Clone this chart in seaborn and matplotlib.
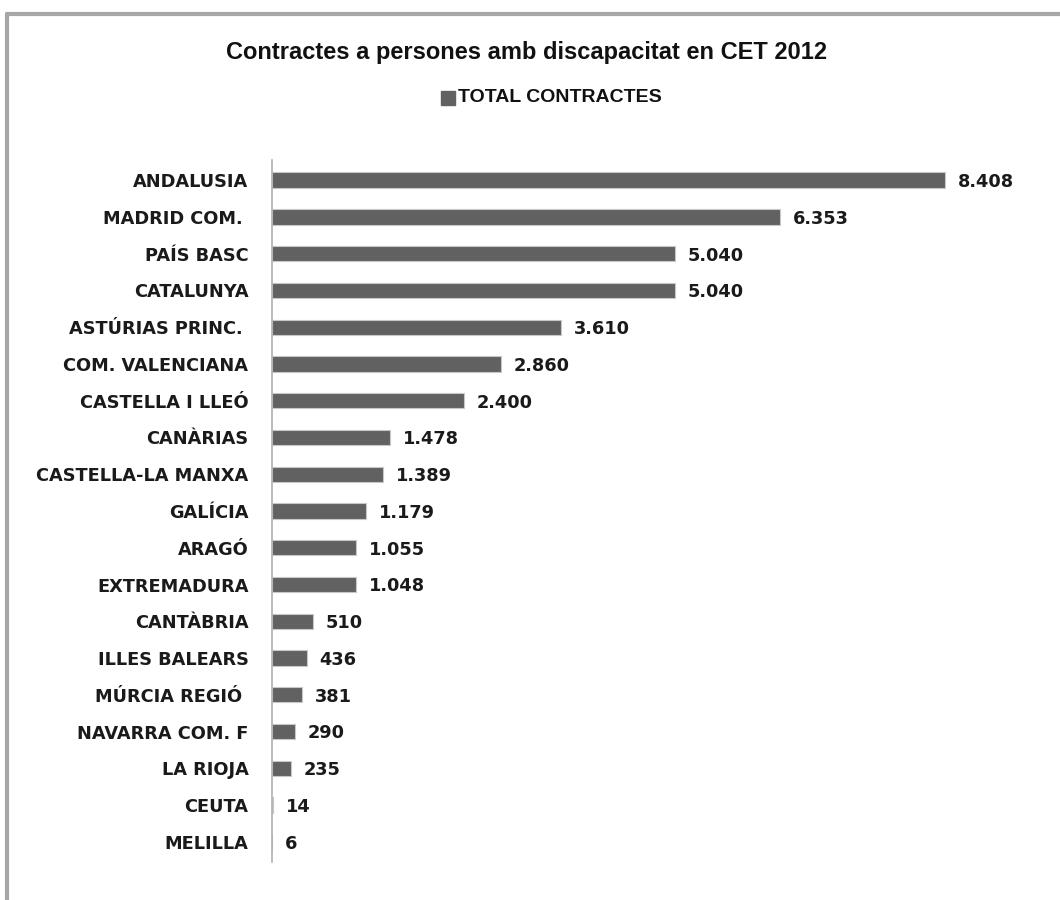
import matplotlib
matplotlib.use('Agg')
import matplotlib.pyplot as plt
import seaborn as sns
import pandas as pd
from matplotlib.patches import Rectangle

# ── Dades ──────────────────────────────────────────────────────────────────────
regions = [
    'ANDALUSIA', 'MADRID COM. ', 'PAÍS BASC', 'CATALUNYA', 'ASTÚRIAS PRINC. ',
    'COM. VALENCIANA', 'CASTELLA I LLEÓ', 'CANÀRIAS', 'CASTELLA-LA MANXA',
    'GALÍCIA', 'ARAGÓ', 'EXTREMADURA', 'CANTÀBRIA', 'ILLES BALEARS',
    'MÚRCIA REGIÓ ', 'NAVARRA COM. F', 'LA RIOJA', 'CEUTA', 'MELILLA',
]
contractes = [8408, 6353, 5040, 5040, 3610, 2860, 2400, 1478, 1389,
              1179, 1055, 1048, 510, 436, 381, 290, 235, 14, 6]

df = pd.DataFrame({'regio': regions, 'total': contractes})

sns.set_style('white')
plt.rcParams['font.family'] = ['DejaVu Sans']

BAR = '#616161'
TITLE_FONT = ['Liberation Sans', 'DejaVu Sans']

fig = plt.figure(figsize=(10.6, 9), dpi=100)
ax = fig.add_axes([272 / 1060, 1 - 862 / 900, 720 / 1060, 702 / 900])

sns.barplot(data=df, x='total', y='regio', color=BAR, width=0.42,
            edgecolor='#c8c8c8', linewidth=0.8, saturation=1, ax=ax)

ax.set_xlim(0, 9000)
ax.set_ylim(len(regions) - 0.45, -0.55)
ax.set_xlabel('')
ax.set_ylabel('')
ax.set_xticks([])
for s in ['top', 'right', 'bottom']:
    ax.spines[s].set_visible(False)
ax.spines['left'].set_color('#b0b0b0')
ax.spines['left'].set_linewidth(1.2)
ax.tick_params(axis='y', length=0, pad=17)
for lbl in ax.get_yticklabels():
    lbl.set_fontsize(12.8)
    lbl.set_fontweight('bold')
    lbl.set_color('#1a1a1a')

# etiquetes de valor
for i, v in enumerate(contractes):
    txt = f'{v:,}'.replace(',', '.')
    ax.text(v + 160, i + 0.05, txt, va='center', ha='left',
            fontsize=12.8, fontweight='bold', color='#1a1a1a')

# títol i llegenda
fig.text(527 / 1060, 1 - 52 / 900,
         'Contractes a persones amb discapacitat en CET 2012',
         ha='center', va='center', fontsize=17, fontweight='bold',
         family=TITLE_FONT, color='#111111')
fig.patches.append(Rectangle((441 / 1060, 1 - 105 / 900), 14 / 1060, 14 / 900,
                             transform=fig.transFigure, color=BAR))
fig.text(458 / 1060, 1 - 98 / 900, 'TOTAL CONTRACTES', ha='left', va='center',
         fontsize=14, fontweight='bold', family=TITLE_FONT, color='#111111')

# marc del gràfic
fig.add_artist(plt.Line2D([7 / 1060, 1], [1 - 14 / 900, 1 - 14 / 900],
                          transform=fig.transFigure, color='#a6a6a6', lw=3))
fig.add_artist(plt.Line2D([7 / 1060, 7 / 1060], [0, 1 - 14 / 900],
                          transform=fig.transFigure, color='#a6a6a6', lw=3))

fig.savefig('out.png', dpi=100)
